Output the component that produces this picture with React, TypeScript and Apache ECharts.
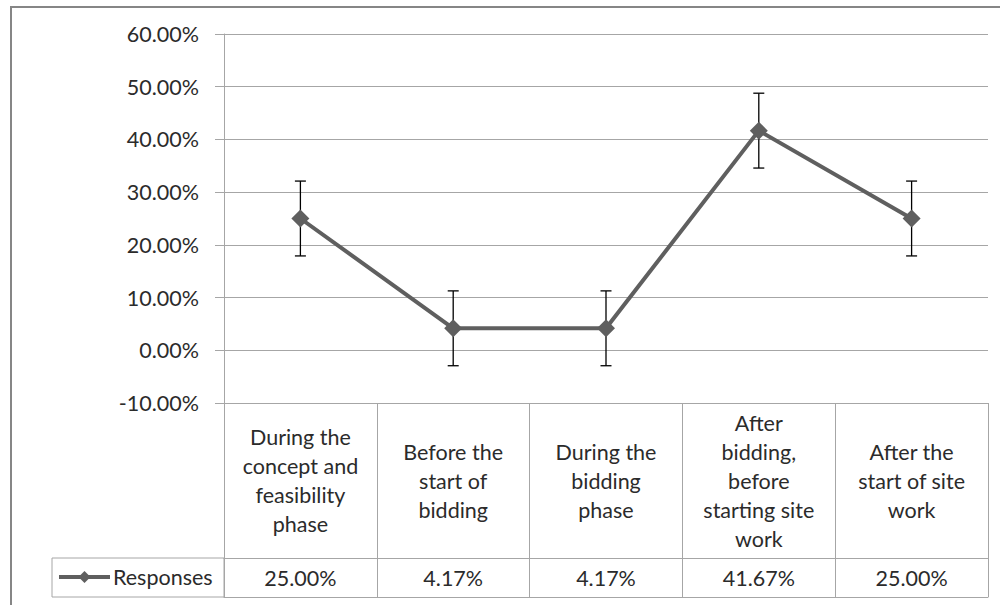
import React, { useEffect, useRef } from "react";
import * as echarts from "echarts";

const categories = [
  "During the\nconcept and\nfeasibility\nphase",
  "Before the\nstart of\nbidding",
  "During the\nbidding\nphase",
  "After\nbidding,\nbefore\nstarting site\nwork",
  "After the\nstart of site\nwork",
];
const seriesName = "Responses";
const values = [25.0, 4.17, 4.17, 41.67, 25.0];
const errors = [7.1, 7.1, 7.1, 7.1, 7.1];
const yMin = -10;
const yMax = 60;
const yStep = 10;

const FONT = 'Lato, "Liberation Sans", sans-serif';
const TEXT = "#2b2b2b";
const GRID = "#a6a6a6";
const FS = 21.5;

export default function App() {
  const ref = useRef<HTMLDivElement>(null);
  useEffect(() => {
    if (!ref.current) return;
    const chart = echarts.init(ref.current, null, { renderer: "svg" });
    const valueLabels = values.map((v) => v.toFixed(2) + "%");
    const option: any = {
      animation: false,
      backgroundColor: "#fff",
      textStyle: { fontFamily: FONT },
      grid: { left: 224, right: 12, top: 34, bottom: 202, containLabel: false },
      legend: {
        data: [seriesName],
        left: 57,
        top: 566,
        itemWidth: 51,
        itemHeight: 15,
        itemGap: 4,
        padding: 0,
        lineStyle: { width: 4, color: "#5f5f5f" },
        itemStyle: { color: "#5f5f5f" },
        textStyle: { fontFamily: FONT, fontSize: FS, color: TEXT, padding: [0, 0, 0, -2] },
      },
      xAxis: [
        {
          type: "category",
          data: categories,
          boundaryGap: true,
          position: "bottom",
          axisLine: { show: true, onZero: false, lineStyle: { color: GRID, width: 1 } },
          axisTick: { show: true, length: 155, lineStyle: { color: GRID, width: 1 } },
          axisLabel: {
            interval: 0,
            margin: 77.5,
            verticalAlign: "middle",
            align: "center",
            fontFamily: FONT,
            fontSize: FS,
            lineHeight: 29,
            color: TEXT,
          },
          splitLine: { show: false },
        },
        {
          type: "category",
          data: valueLabels,
          boundaryGap: true,
          position: "bottom",
          offset: 155,
          axisLine: { show: true, onZero: false, lineStyle: { color: GRID, width: 1 } },
          axisTick: { show: true, length: 39, lineStyle: { color: GRID, width: 1 } },
          axisLabel: {
            interval: 0,
            margin: 19.5,
            verticalAlign: "middle",
            align: "center",
            fontFamily: FONT,
            fontSize: FS,
            color: TEXT,
          },
        },
        {
          type: "category",
          data: valueLabels,
          boundaryGap: true,
          position: "bottom",
          offset: 194,
          axisLine: { show: true, onZero: false, lineStyle: { color: GRID, width: 1 } },
          axisTick: { show: false },
          axisLabel: { show: false },
        },
      ],
      yAxis: {
        type: "value",
        min: yMin,
        max: yMax,
        interval: yStep,
        axisLine: { show: true, lineStyle: { color: GRID, width: 1 } },
        axisTick: { show: true, length: 9, lineStyle: { color: GRID, width: 1 } },
        axisLabel: {
          margin: 25,
          fontFamily: FONT,
          fontSize: FS,
          color: TEXT,
          formatter: (v: number) => v.toFixed(2) + "%",
        },
        splitLine: { show: true, lineStyle: { color: GRID, width: 1 } },
      },
      graphic: [
        {
          type: "rect",
          shape: { x: 11, y: 7, width: 1100, height: 700 },
          style: { fill: "none", stroke: "#868686", lineWidth: 2 },
          silent: true,
        },
        {
          type: "rect",
          shape: { x: 52, y: 558, width: 172, height: 39 },
          style: { fill: "none", stroke: GRID, lineWidth: 1 },
          silent: true,
        },
      ],
      series: [
        {
          type: "custom",
          name: "error",
          xAxisIndex: 0,
          z: 1,
          data: values.map((v, i) => [i, v - errors[i], v + errors[i]]),
          encode: { x: 0, y: [1, 2] },
          renderItem: (params: any, api: any) => {
            const idx = api.value(0);
            const top = api.coord([idx, api.value(2)]);
            const bot = api.coord([idx, api.value(1)]);
            const half = 5.5;
            const st = { stroke: "#000", lineWidth: 1.3 };
            return {
              type: "group",
              children: [
                { type: "line", shape: { x1: top[0], y1: top[1], x2: bot[0], y2: bot[1] }, style: st },
                { type: "line", shape: { x1: top[0] - half, y1: top[1], x2: top[0] + half, y2: top[1] }, style: st },
                { type: "line", shape: { x1: bot[0] - half, y1: bot[1], x2: bot[0] + half, y2: bot[1] }, style: st },
              ],
            };
          },
        },
        {
          type: "line",
          name: seriesName,
          xAxisIndex: 0,
          z: 3,
          data: values,
          symbol: "diamond",
          symbolSize: 18,
          lineStyle: { color: "#5f5f5f", width: 4 },
          itemStyle: { color: "#5f5f5f" },
        },
      ],
    };
    chart.setOption(option);
    return () => chart.dispose();
  }, []);
  return (
    <div
      ref={ref}
      style={{ position: "fixed", left: 0, top: 0, width: 1000, height: 605 }}
    />
  );
}
